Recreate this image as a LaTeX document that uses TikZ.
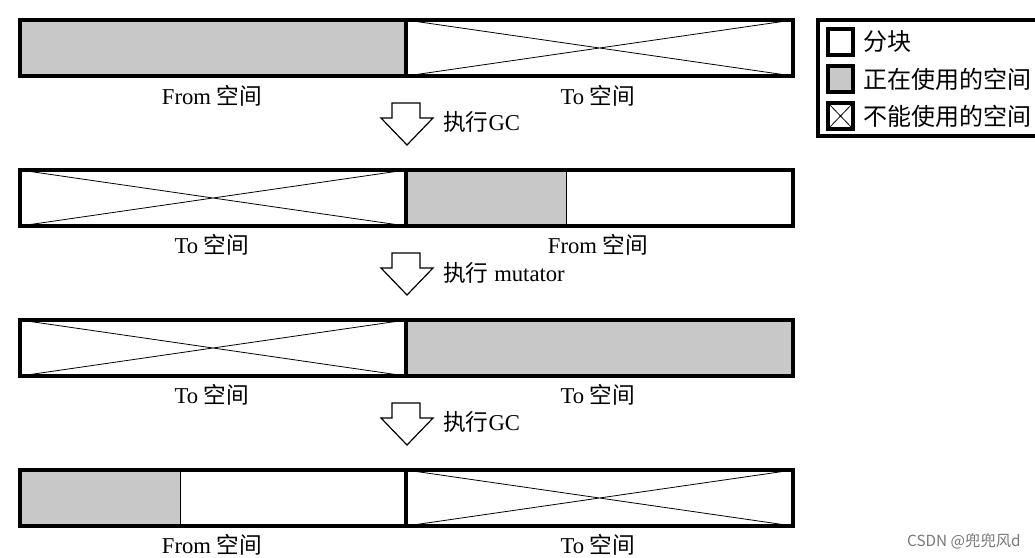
\documentclass[tikz,border=0pt]{standalone}
\usepackage{fontspec}
\setmainfont{Liberation Serif}
\newfontfamily\cjk{Noto Sans CJK SC}
\usetikzlibrary{positioning}

\definecolor{usedgray}{RGB}{200,200,200}
\definecolor{markgray}{RGB}{120,120,120}

% down arrow between two bars, top at y = #1
\newcommand{\stepdown}[1]{%
  \draw[gcarrow] (392,#1) -- (420,#1) -- (420,#1+15) -- (433,#1+15)
    -- (407,#1+42) -- (381,#1+15) -- (392,#1+15) -- cycle;}

\begin{document}
\begin{tikzpicture}[x=0.75pt, y=-0.75pt,
  bar/.style={line width=2.4pt},
  cross/.style={line width=0.6pt},
  gcarrow/.style={line width=0.9pt, fill=white, line join=miter},
  lbl/.style={font=\fontsize{17}{20}\selectfont, inner sep=0pt},
  key/.style={font=\cjk\fontsize{18}{21}\selectfont, inner sep=0pt, anchor=west}]
  \useasboundingbox (0,0) rectangle (1035,557);

  % bar 1
  \fill[usedgray] (20,20) rectangle (406,76);
  \draw[cross] (406,20) -- (793,76) (406,76) -- (793,20);
  \draw[bar] (20,20) rectangle (793,76) (406,20) -- (406,76);
  \node[lbl] (from1) at (212,96) {From \cjk 空间};
  \node[lbl] (to1) at (598,96) {To \cjk 空间};

  \stepdown{103}
  \node[lbl, anchor=west] (gc1) at (443,122) {\cjk 执行{\rmfamily GC}};

  % bar 2
  \fill[usedgray] (406,170) rectangle (566,226);
  \draw[cross] (20,170) -- (406,226) (20,226) -- (406,170);
  \draw[cross] (566,170) -- (566,226);
  \draw[bar] (20,170) rectangle (793,226) (406,170) -- (406,226);
  \node[lbl] (to2) at (212,245) {To \cjk 空间};
  \node[lbl] (from2) at (598,245) {From \cjk 空间};

  \stepdown{253}
  \node[lbl, anchor=west] (mut) at (443,273) {{\cjk 执行} mutator};

  % bar 3
  \fill[usedgray] (406,320) rectangle (793,376);
  \draw[cross] (20,320) -- (406,376) (20,376) -- (406,320);
  \draw[bar] (20,320) rectangle (793,376) (406,320) -- (406,376);
  \node[lbl] (to3) at (212,395) {To \cjk 空间};
  \node[lbl] (to4) at (598,395) {To \cjk 空间};

  \stepdown{403}
  \node[lbl, anchor=west] (gc2) at (443,422) {\cjk 执行{\rmfamily GC}};

  % bar 4
  \fill[usedgray] (20,470) rectangle (180,526);
  \draw[cross] (180,470) -- (180,526);
  \draw[cross] (406,470) -- (793,526) (406,526) -- (793,470);
  \draw[bar] (20,470) rectangle (793,526) (406,470) -- (406,526);
  \node[lbl] (from4) at (212,545) {From \cjk 空间};
  \node[lbl] (to5) at (598,545) {To \cjk 空间};

  % legend
  \draw[bar] (818,20) rectangle (1045,136);
  \draw[bar] (828,29) rectangle (853,55);
  \draw[bar, fill=usedgray] (828,66) rectangle (853,92);
  \draw[cross] (828,103) -- (853,129) (828,129) -- (853,103);
  \draw[bar] (828,103) rectangle (853,129);
  \node[key] (blk) at (863,42) {分块};
  \node[key] (used) at (863,79) {正在使用的空间};
  \node[key] (unused) at (863,116) {不能使用的空间};

  \node[font=\cjk\fontsize{11.5}{13}\selectfont, text=markgray, anchor=east,
    inner sep=0pt] (mark) at (1021,541) {CSDN @兜兜风d};
\end{tikzpicture}
\end{document}
